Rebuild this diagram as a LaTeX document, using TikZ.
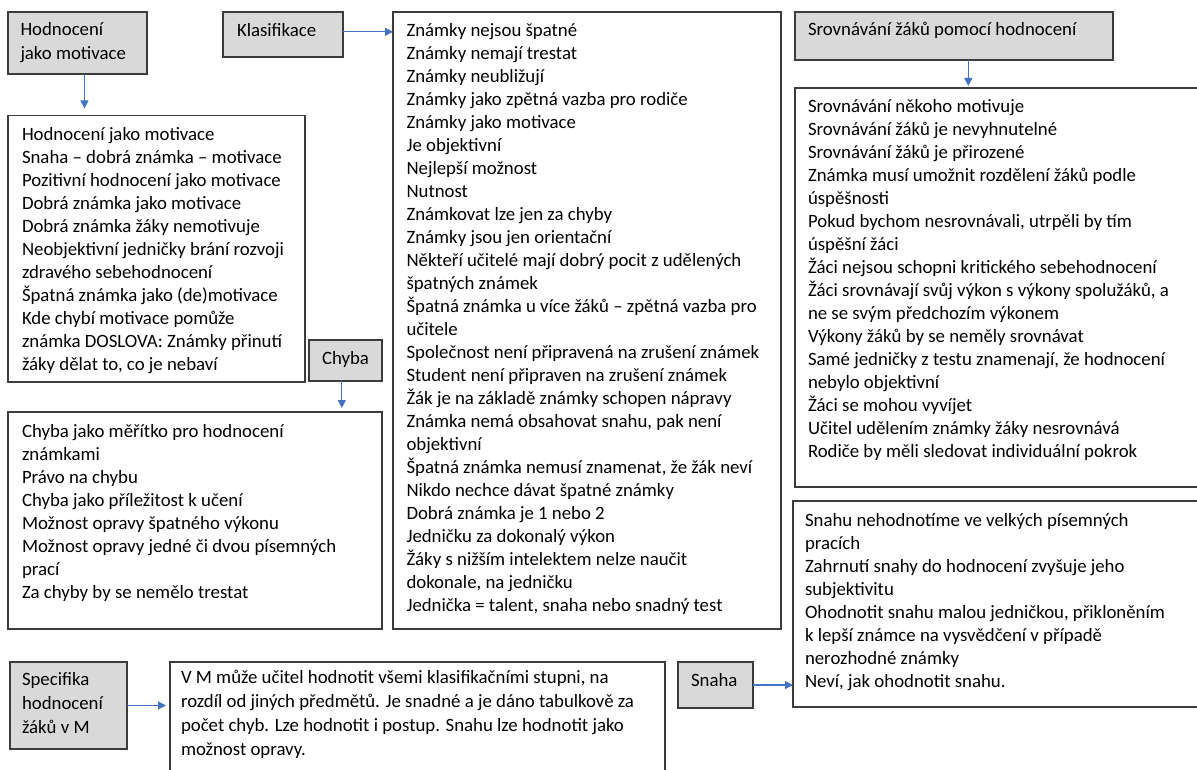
\documentclass[tikz,border=0pt]{standalone}
\usepackage{fontspec}
\setmainfont{Carlito}
\usetikzlibrary{arrows.meta,calc}

\definecolor{headfill}{HTML}{D9D9D9}
\definecolor{framecol}{HTML}{3C3C3C}
\definecolor{linkblue}{HTML}{4472C4}

% list text and heading text
\newcommand\listfont{\fontsize{18.8}{23}\selectfont}
\newcommand\headfont{\fontsize{18.8}{24}\selectfont}

\begin{document}
\begin{tikzpicture}[x=1pt,y=-1pt,
  frame/.style={draw=framecol, line width=1.1pt, rectangle, anchor=north west,
                inner sep=0pt, outer sep=0pt},
  head/.style={frame, fill=headfill},
  panel/.style={frame, fill=white},
  body/.style={anchor=north west, align=left, inner sep=0pt, outer sep=0pt, font=\listfont},
  headtext/.style={body, font=\headfont},
  link/.style={draw=linkblue, line width=1.1pt, -{Triangle[length=8pt,width=8pt]}}]

\useasboundingbox (0,0) rectangle (1197,770);

% ---------- boxes ----------
\node[head,  minimum width=139, minimum height=62]  (motiv)  at (8,12) {};
\node[head,  minimum width=120, minimum height=45]  (klas)   at (223,12) {};
\node[head,  minimum width=318, minimum height=48]  (srov)   at (795,12) {};
\node[panel, minimum width=297, minimum height=266.5] (motivlist) at (8,115.5) {};
\node[panel, minimum width=388, minimum height=617] (klaslist) at (393,12) {};
\node[panel, minimum width=404, minimum height=399] (srovlist) at (795,88) {};
\node[head,  minimum width=73,  minimum height=41]  (chyba)  at (309,340) {};
\node[panel, minimum width=374, minimum height=217] (chybalist) at (8,412) {};
\node[panel, minimum width=406, minimum height=206] (snahalist) at (793,501) {};
\node[head,  minimum width=117, minimum height=87]  (spec)   at (10,662) {};
\node[panel, minimum width=495, minimum height=120] (speclist) at (170,662) {};
\node[head,  minimum width=75,  minimum height=46]  (snaha)  at (678,662) {};

% ---------- headings ----------
\node[headtext] (tmotiv) at (20.5,18.5) {\strut Hodnocení\\jako motivace};
\node[headtext] (tklas)  at (237,19.5) {\strut Klasifikace};
\node[headtext] (tsrov)  at (808,18.5) {\strut Srovnávání žáků pomocí hodnocení};
\node[headtext] (tchyba) at (322,347.5) {\strut Chyba};
\node[headtext] (tspec)  at (22,669) {\strut Specifika\\hodnocení\\žáků v M};
\node[headtext] (tsnaha) at (691,669.5) {\strut Snaha};

% ---------- lists ----------
\node[body] (lmotiv) at (22,124.3) {\strut Hodnocení jako motivace\\
Snaha – dobrá známka – motivace\\
Pozitivní hodnocení jako motivace\\
Dobrá známka jako motivace\\
Dobrá známka žáky nemotivuje\\
Neobjektivní jedničky brání rozvoji\\
zdravého sebehodnocení\\
Špatná známka jako (de)motivace\\
Kde chybí motivace pomůže\\
známka DOSLOVA: Známky přinutí\\
žáky dělat to, co je nebaví};

\node[body] (lklas) at (406.5,20) {\strut Známky nejsou špatné\\
Známky nemají trestat\\
Známky neubližují\\
Známky jako zpětná vazba pro rodiče\\
Známky jako motivace\\
Je objektivní\\
Nejlepší možnost\\
Nutnost\\
Známkovat lze jen za chyby\\
Známky jsou jen orientační\\
Někteří učitelé mají dobrý pocit z udělených\\
špatných známek\\
Špatná známka u více žáků – zpětná vazba pro\\
učitele\\
Společnost není připravená na zrušení známek\\
Student není připraven na zrušení známek\\
Žák je na základě známky schopen nápravy\\
Známka nemá obsahovat snahu, pak není\\
objektivní\\
Špatná známka nemusí znamenat, že žák neví\\
Nikdo nechce dávat špatné známky\\
Dobrá známka je 1 nebo 2\\
Jedničku za dokonalý výkon\\
Žáky s nižším intelektem nelze naučit\\
dokonale, na jedničku\\
Jednička = talent, snaha nebo snadný test};

\node[body] (lsrov) at (808,96.7) {\strut Srovnávání někoho motivuje\\
Srovnávání žáků je nevyhnutelné\\
Srovnávání žáků je přirozené\\
Známka musí umožnit rozdělení žáků podle\\
úspěšnosti\\
Pokud bychom nesrovnávali, utrpěli by tím\\
úspěšní žáci\\
Žáci nejsou schopni kritického sebehodnocení\\
Žáci srovnávají svůj výkon s výkony spolužáků, a\\
ne se svým předchozím výkonem\\
Výkony žáků by se neměly srovnávat\\
Samé jedničky z testu znamenají, že hodnocení\\
nebylo objektivní\\
Žáci se mohou vyvíjet\\
Učitel udělením známky žáky nesrovnává\\
Rodiče by měli sledovat individuální pokrok};

\node[body] (lchyba) at (22,421.7) {\strut Chyba jako měřítko pro hodnocení\\
známkami\\
Právo na chybu\\
Chyba jako příležitost k učení\\
Možnost opravy špatného výkonu\\
Možnost opravy jedné či dvou písemných\\
prací\\
Za chyby by se nemělo trestat};

\node[body] (lsnaha) at (805,510.7) {\strut Snahu nehodnotíme ve velkých písemných\\
pracích\\
Zahrnutí snahy do hodnocení zvyšuje jeho\\
subjektivitu\\
Ohodnotit snahu malou jedničkou, přikloněním\\
k lepší známce na vysvědčení v případě\\
nerozhodné známky\\
Neví, jak ohodnotit snahu.};

\node[headtext] (lspec) at (181,666.2) {\strut V M může učitel hodnotit všemi klasifikačními stupni, na\\
rozdíl od jiných předmětů. Je snadné a je dáno tabulkově za\\
počet chyb. Lze hodnotit i postup. Snahu lze hodnotit jako\\
možnost opravy.};

% ---------- connectors ----------
\coordinate (motivfoot) at ($(motiv.south west)!0.55!(motiv.south east)$);
\coordinate (klasside)  at ($(klas.north east)!0.44!(klas.south east)$);
\coordinate (srovfoot)  at ($(srov.south west)!0.545!(srov.south east)$);
\coordinate (chybafoot) at ($(chyba.south west)!0.45!(chyba.south east)$);

\draw[link, shorten >=7pt] (motivfoot) -- (motivfoot |- motivlist.north);
\draw[link] (klasside) -- (klasside -| klaslist.west);
\draw[link, shorten >=2pt] (srovfoot) -- (srovfoot |- srovlist.north);
\draw[link, shorten >=4pt] (chybafoot) -- (chybafoot |- chybalist.north);
\draw[link, shorten >=4pt] (spec.east) -- (spec.east -| speclist.west);
\draw[link] (snaha.east) -- (snaha.east -| snahalist.west);
\end{tikzpicture}
\end{document}
